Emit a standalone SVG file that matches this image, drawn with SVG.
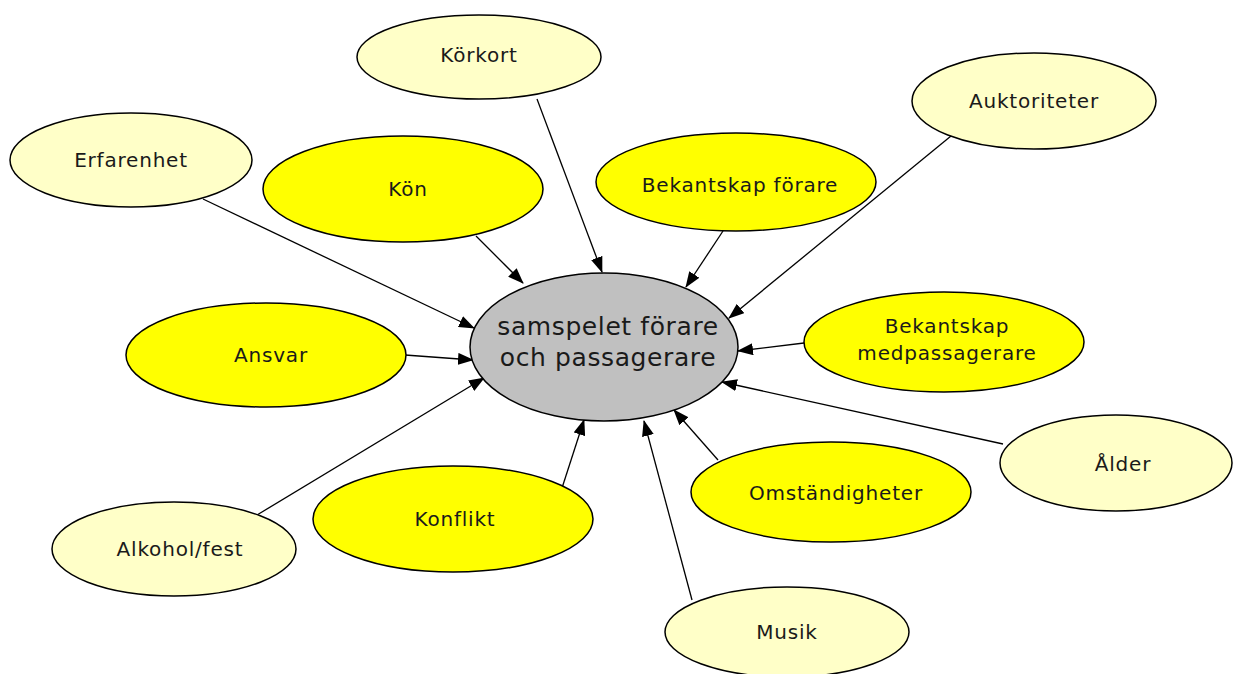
<svg xmlns="http://www.w3.org/2000/svg" width="1235" height="674" viewBox="0 0 1235 674">
  <style>
    .light { fill: #ffffc8; stroke: #000; stroke-width: 1.5; }
    .bright { fill: #ffff00; stroke: #000; stroke-width: 1.5; }
    .core { fill: #c0c0c0; stroke: #000; stroke-width: 1.5; }
    .lbl { font-family: "DejaVu Sans", "Liberation Sans", sans-serif; font-size: 20px; letter-spacing: 0.8px; fill: #1a1a1a; text-anchor: middle; dominant-baseline: central; }
    .big { font-size: 25px; letter-spacing: 0.6px; }
    .edge { stroke: #000; stroke-width: 1.3; fill: none; marker-end: url(#head); }
  </style>
  <defs>
    <marker id="head" markerUnits="userSpaceOnUse" markerWidth="16" markerHeight="12" refX="15" refY="6" orient="auto">
      <path d="M0,0 L16,6 L0,12 Z" fill="#000"/>
    </marker>
  </defs>
  <rect width="1235" height="674" fill="#fff"/>

  <g id="connectors">
    <line class="edge" x1="537" y1="99" x2="602" y2="272"/>
    <line class="edge" x1="203" y1="199" x2="474" y2="328"/>
    <line class="edge" x1="476" y1="236" x2="523" y2="283"/>
    <line class="edge" x1="723" y1="231" x2="686" y2="287"/>
    <line class="edge" x1="951" y1="136" x2="729" y2="318"/>
    <line class="edge" x1="405" y1="355" x2="473" y2="360"/>
    <line class="edge" x1="804" y1="343" x2="738" y2="351"/>
    <line class="edge" x1="1003" y1="444" x2="722" y2="382"/>
    <line class="edge" x1="718" y1="460" x2="674" y2="410"/>
    <line class="edge" x1="692" y1="600" x2="644" y2="421"/>
    <line class="edge" x1="562" y1="488" x2="584" y2="420"/>
    <line class="edge" x1="257" y1="515" x2="484" y2="378"/>
  </g>

  <g id="center">
    <ellipse class="core" cx="604" cy="347" rx="134" ry="74"/>
    <text class="lbl big" x="608" y="326">samspelet förare</text>
    <text class="lbl big" x="608" y="357">och passagerare</text>
  </g>
  <g id="korkort">
    <ellipse class="light" cx="479" cy="57" rx="122" ry="42"/>
    <text class="lbl" x="479" y="55">Körkort</text>
  </g>
  <g id="auktoriteter">
    <ellipse class="light" cx="1034" cy="101" rx="122" ry="48"/>
    <text class="lbl" x="1034" y="101">Auktoriteter</text>
  </g>
  <g id="erfarenhet">
    <ellipse class="light" cx="131" cy="160" rx="121" ry="47"/>
    <text class="lbl" x="131" y="160">Erfarenhet</text>
  </g>
  <g id="kon">
    <ellipse class="bright" cx="403" cy="189" rx="140" ry="53"/>
    <text class="lbl" x="408" y="189">Kön</text>
  </g>
  <g id="bekantskap-forare">
    <ellipse class="bright" cx="736" cy="182" rx="140" ry="49"/>
    <text class="lbl" x="740" y="185">Bekantskap förare</text>
  </g>
  <g id="ansvar">
    <ellipse class="bright" cx="266" cy="355" rx="140" ry="52"/>
    <text class="lbl" x="271" y="355">Ansvar</text>
  </g>
  <g id="bekantskap-medpassagerare">
    <ellipse class="bright" cx="944" cy="342" rx="140" ry="50"/>
    <text class="lbl" x="947" y="326">Bekantskap</text>
    <text class="lbl" x="947" y="353">medpassagerare</text>
  </g>
  <g id="alder">
    <ellipse class="light" cx="1116" cy="463" rx="116" ry="48"/>
    <text class="lbl" x="1123" y="464">Ålder</text>
  </g>
  <g id="omstandigheter">
    <ellipse class="bright" cx="831" cy="492" rx="140" ry="50"/>
    <text class="lbl" x="836" y="493">Omständigheter</text>
  </g>
  <g id="konflikt">
    <ellipse class="bright" cx="453" cy="519" rx="140" ry="53"/>
    <text class="lbl" x="455" y="519">Konflikt</text>
  </g>
  <g id="alkohol-fest">
    <ellipse class="light" cx="174" cy="549" rx="122" ry="47"/>
    <text class="lbl" x="180" y="549">Alkohol/fest</text>
  </g>
  <g id="musik">
    <ellipse class="light" cx="787" cy="632" rx="122" ry="45"/>
    <text class="lbl" x="787" y="632">Musik</text>
  </g>
</svg>
